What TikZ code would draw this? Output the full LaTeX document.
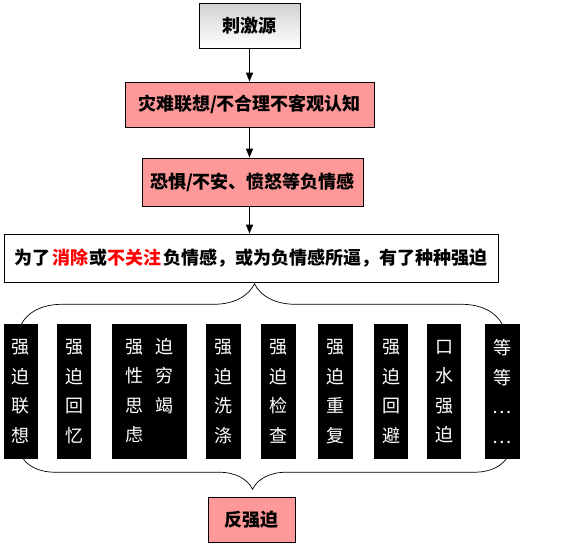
\documentclass[tikz,border=0pt]{standalone}
\usepackage{fontspec}
\setmainfont{Noto Sans CJK SC}
\usepackage{tikz}
\usetikzlibrary{positioning,arrows.meta,decorations.pathreplacing}
\definecolor{figpink}{HTML}{FF9999}
\tikzset{
  figbox/.style={draw, line width=0.8pt, align=center, inner sep=0pt,
    font=\fontsize{18}{22}\selectfont\bfseries, fill=white},
  figpart/.style={figbox, fill=figpink},
  figarrow/.style={-{Triangle[length=9pt,width=7pt]}, line width=1.3pt},
  figcol/.style={fill=black, text=white, inner sep=0pt, minimum height=135pt,
    minimum width=34pt, align=center, font=\fontsize{18}{29.5}\selectfont},
  figbrace/.style={decorate, line width=0.7pt},
}
\newcommand{\redw}[1]{\textcolor{red}{#1}}

\begin{document}
\begin{tikzpicture}[x=1pt, y=-1pt]
  \useasboundingbox (0,0) rectangle (579,550);
  % chain of boxes
  \node[figbox, top color=gray!35, bottom color=white, minimum width=101pt, minimum height=45pt] (src) at (249.5,25.5) {刺激源};
  \node[figpart, minimum width=249pt, minimum height=45pt] (cog) at (249.5,104.5) {灾难联想/不合理不客观认知};
  \node[figpart, minimum width=221pt, minimum height=48pt] (emo) at (252.5,182) {恐惧/不安、愤怒等负情感};
  \node[figbox, minimum width=494pt, minimum height=48pt] (why) at (251,258)
    {为了\,\redw{消除}或\redw{不关注}\,负情感，或为负情感所逼，有了种种强迫};
  \draw[figarrow] (src.south -| cog.north) -- (cog.north);
  \draw[figarrow] (cog.south) -- (cog.south |- emo.north);
  \draw[figarrow] (cog.south |- emo.south) -- (cog.south |- why.north);
  % the compulsions
  \node[figcol] (c1) at (21,391.5) {强\\迫\\联\\想};
  \node[figcol] (c2) at (74,391.5) {强\\迫\\回\\忆};
  \node[figcol, minimum width=75pt] (c3) at (149.5,391.5)
    {\begin{tabular}{@{}c@{\hspace{12pt}}c@{}}强&迫\\性&穷\\思&竭\\虑&\end{tabular}};
  \node[figcol, minimum width=35pt] (c4) at (223.5,391.5) {强\\迫\\洗\\涤};
  \node[figcol, minimum width=35pt] (c5) at (278.5,391.5) {强\\迫\\检\\查};
  \node[figcol, minimum width=35pt] (c6) at (335.5,391.5) {强\\迫\\重\\复};
  \node[figcol] (c7) at (391,391.5) {强\\迫\\回\\避};
  \node[figcol] (c8) at (444,391.5) {口\\水\\强\\迫};
  \node[figcol, minimum width=35pt] (c9) at (502.5,391.5) {等\\等\\…\\…};
  % braces
  \draw[figbrace, decoration={brace, amplitude=41pt, aspect=0.485}]
    ([yshift=-1pt]c1.north) -- ([yshift=-1pt]c9.north);
  \draw[figbrace, decoration={brace, mirror, amplitude=34pt, aspect=0.475}]
    ([yshift=4pt]c1.south) -- ([xshift=6pt,yshift=4pt]c9.south);
  \node[figpart, minimum width=87pt, minimum height=45pt] (anti) at (251.5,519.5) {反强迫};
\end{tikzpicture}
\end{document}
